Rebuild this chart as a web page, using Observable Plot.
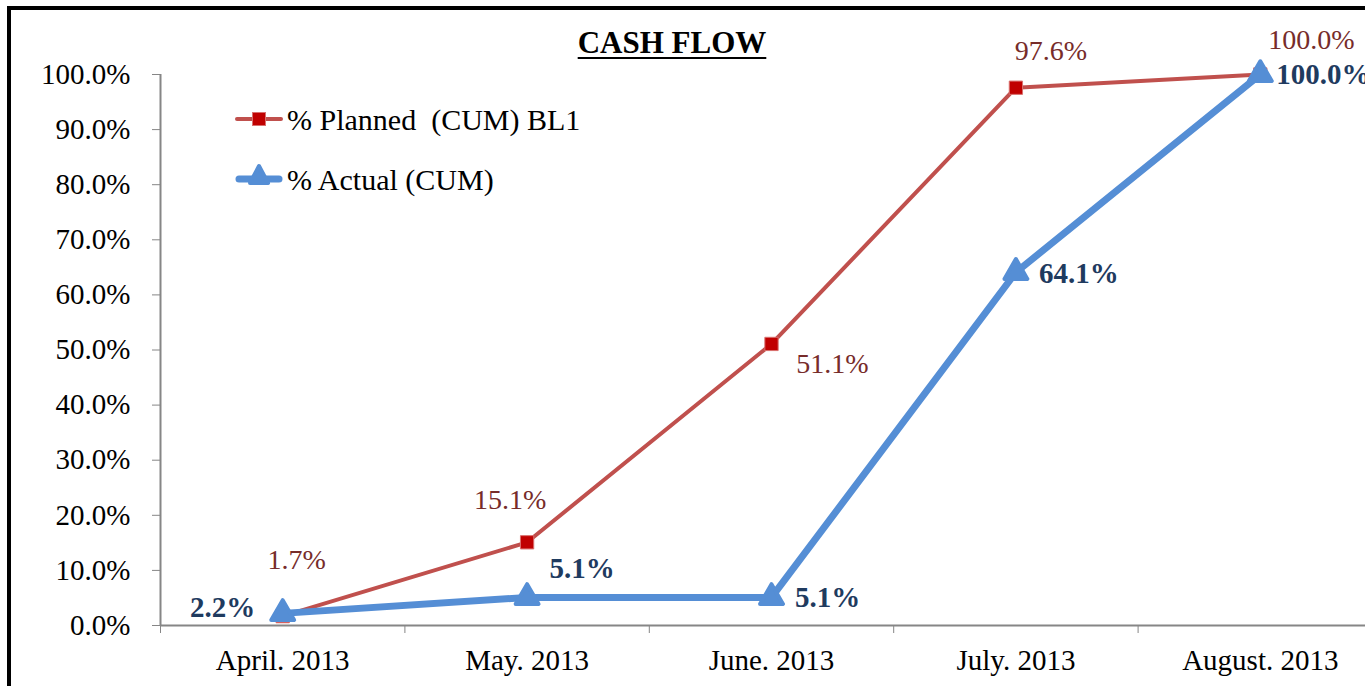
<!DOCTYPE html>
<html>
<head>
<meta charset="utf-8">
<script src="https://cdn.jsdelivr.net/npm/d3@7"></script>
<script src="https://cdn.jsdelivr.net/npm/@observablehq/plot@0.6"></script>
<style>
  html, body { margin: 0; padding: 0; background: #fff; overflow: hidden; }
  #wrap { position: relative; width: 1365px; height: 686px; overflow: hidden; background: #fff; }
  #chart { position: absolute; left: 0; top: 0; }
  #border { position: absolute; left: 7px; top: 6px; width: 1420px; height: 740px; border: 4px solid #000; pointer-events: none; }
  #title { position: absolute; left: 522px; top: 27px; width: 300px; text-align: center;
           font-family: 'Liberation Serif', 'Times New Roman', serif; font-weight: bold; font-size: 31px;
           line-height: 1; text-decoration: underline; text-underline-offset: 4px; text-decoration-thickness: 2px; color: #000; }
  .leg { position: absolute; font-family: 'Liberation Serif', 'Times New Roman', serif; font-size: 30px; line-height: 1; white-space: pre; color: #000; }
  .sw { position: absolute; }
</style>
</head>
<body>
<div id="wrap">
  <div id="chart"></div>
  <div id="title">CASH FLOW</div>
  <svg class="sw" style="left:235px;top:105px" width="50" height="30">
    <line x1="2" x2="46" y1="14" y2="14" stroke="#C0504D" stroke-width="4" stroke-linecap="round"/>
    <rect x="17.5" y="7.5" width="13" height="13" fill="#C00000" stroke="#D9706E" stroke-width="1"/>
  </svg>
  <div class="leg" style="left:287px;top:105px">% Planned  (CUM) BL1</div>
  <svg class="sw" style="left:235px;top:160px" width="50" height="34">
    <line x1="4" x2="44" y1="19" y2="19" stroke="#558ED5" stroke-width="7" stroke-linecap="round"/>
    <path d="M24,6 L33,23 L15,23 Z" fill="#558ED5" stroke="#558ED5" stroke-width="4" stroke-linejoin="round"/>
  </svg>
  <div class="leg" style="left:287px;top:165px">% Actual (CUM)</div>
  <div id="border"></div>
</div>
<script>
// ---- data ----
const categories = ["April. 2013", "May. 2013", "June. 2013", "July. 2013", "August. 2013"];
const planned = [0.017, 0.151, 0.511, 0.976, 1.0];
const actual  = [0.022, 0.051, 0.051, 0.641, 1.0];
const yTicks  = [0, 0.1, 0.2, 0.3, 0.4, 0.5, 0.6, 0.7, 0.8, 0.9, 1.0];

// ---- build rows ----
const plannedRows = categories.map((c, i) => ({i, c, v: planned[i]}));
const actualRows  = categories.map((c, i) => ({i, c, v: actual[i]}));
const centers = categories.map((_, i) => i);
const boundaries = categories.map((_, i) => i - 0.5).concat([categories.length - 0.5]);
const xDomain = [-0.5, categories.length - 0.5];

const pct = d3.format(".1%");
const serif = "'Liberation Serif', 'Times New Roman', serif";
const gray = "#868686";

// label offsets (layout only)
const plannedOff = [[14, -56], [-17, -42], [61, 20], [35, -37], [51, -34]];
const actualOff  = [[-60, -6], [55, -29], [56, 0], [63, 1], [63, 0]];

const plannedLabels = plannedRows.map((d, k) => Plot.text([d], {
  x: "i", y: "v", text: r => pct(r.v), dx: plannedOff[k][0], dy: plannedOff[k][1],
  fill: "#772C2A", fontSize: 28, fontFamily: serif, textAnchor: "middle"
}));
const actualLabels = actualRows.map((d, k) => Plot.text([d], {
  x: "i", y: "v", text: r => pct(r.v), dx: actualOff[k][0], dy: actualOff[k][1],
  fill: "#1F3B5F", fontSize: 29, fontWeight: "bold", fontFamily: serif, textAnchor: "middle"
}));

const chart = Plot.plot({
  width: 1365,
  height: 686,
  marginTop: 74,
  marginBottom: 61,
  marginLeft: 160,
  marginRight: 0,
  style: {fontFamily: serif, fontSize: "29px", background: "transparent", overflow: "visible", color: "#000"},
  x: {type: "linear", domain: xDomain, range: [160, 1382]},
  y: {domain: [0, 1]},
  marks: [
    Plot.axisY({ticks: yTicks, tickFormat: pct, tickSize: 8, tickPadding: 22, stroke: gray, fill: "#000", fontSize: 29, label: null}),
    Plot.axisX({ticks: centers, tickFormat: i => categories[i], tickSize: 0, tickPadding: 24, fill: "#000", fontSize: 29, label: null}),
    Plot.axisX({ticks: boundaries, tickFormat: () => "", tickSize: 8, stroke: gray, label: null}),
    Plot.ruleY([0], {stroke: gray, strokeWidth: 2}),
    Plot.ruleX([xDomain[0]], {stroke: gray, strokeWidth: 2}),
    Plot.line(plannedRows, {x: "i", y: "v", stroke: "#C0504D", strokeWidth: 4}),
    Plot.dot(plannedRows, {x: "i", y: "v", symbol: "square", r: 7.5, fill: "#C00000", stroke: "#D9706E", strokeWidth: 1}),
    Plot.line(actualRows, {x: "i", y: "v", stroke: "#558ED5", strokeWidth: 7}),
    Plot.dot(actualRows, {x: "i", y: "v", symbol: "triangle", r: 8.5, fill: "#558ED5", stroke: "#558ED5", strokeWidth: 4, strokeLinejoin: "round"}),
    ...plannedLabels,
    ...actualLabels
  ]
});
document.getElementById("chart").appendChild(chart);
</script>
</body>
</html>
